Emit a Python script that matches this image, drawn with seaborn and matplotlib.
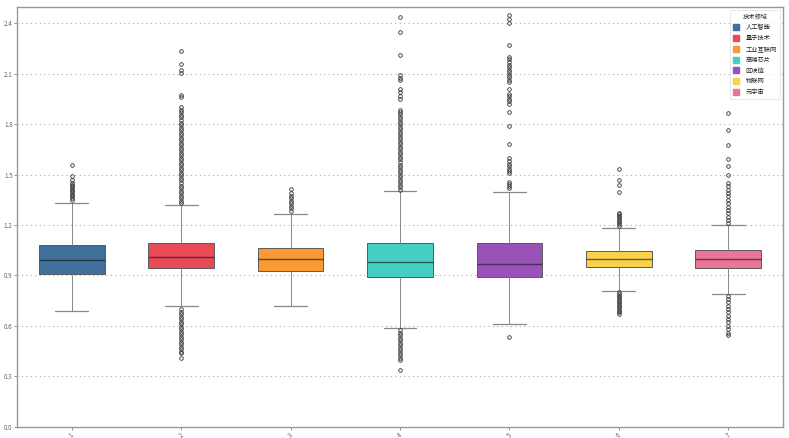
import numpy as np
import pandas as pd
import matplotlib
matplotlib.use("Agg")
import matplotlib.pyplot as plt
from matplotlib.lines import Line2D
import seaborn as sns

# ---- data ----
fields = ["人工智能", "量子技术", "工业互联网", "高端芯片", "区块链", "物联网", "元宇宙"]
tick_labels = ["1", "2", "3", "4", "5", "6", "7"]
colors = ["#41709c", "#e84a57", "#fb9a35", "#45cfc4", "#9b52b8", "#f9d24a", "#ea7597"]

q1 = [0.908, 0.944, 0.925, 0.890, 0.892, 0.950, 0.945]
medians = [0.993, 1.011, 0.995, 0.977, 0.967, 0.999, 0.997]
q3 = [1.078, 1.094, 1.063, 1.095, 1.094, 1.045, 1.050]
whisker_low = [0.688, 0.720, 0.720, 0.585, 0.611, 0.810, 0.790]
whisker_high = [1.331, 1.318, 1.268, 1.400, 1.395, 1.185, 1.200]

fliers_high = [
    [1.35, 1.36, 1.37, 1.38, 1.39, 1.40, 1.41, 1.42, 1.43, 1.44, 1.45, 1.47, 1.49, 1.557],
    [1.33, 1.345, 1.36, 1.375, 1.39, 1.405, 1.42, 1.435, 1.45, 1.465, 1.48, 1.495, 1.51,
     1.525, 1.54, 1.555, 1.57, 1.585, 1.60, 1.615, 1.63, 1.645, 1.66, 1.675, 1.69, 1.705,
     1.72, 1.735, 1.75, 1.765, 1.78, 1.795, 1.81, 1.825, 1.84, 1.855, 1.87, 1.885, 1.905,
     1.96, 1.975, 2.105, 2.12, 2.158, 2.233],
    [1.285, 1.30, 1.315, 1.33, 1.345, 1.36, 1.375, 1.39, 1.412],
    [1.41, 1.425, 1.44, 1.455, 1.47, 1.485, 1.50, 1.515, 1.53, 1.545, 1.56, 1.575, 1.59,
     1.605, 1.62, 1.635, 1.65, 1.665, 1.68, 1.695, 1.71, 1.725, 1.74, 1.755, 1.77, 1.785,
     1.80, 1.815, 1.83, 1.845, 1.86, 1.875, 1.887, 1.95, 1.97, 1.99, 2.01, 2.06, 2.075,
     2.09, 2.212, 2.346, 2.435],
    [1.418, 1.43, 1.445, 1.456, 1.507, 1.52, 1.535, 1.55, 1.565, 1.58, 1.596, 1.684, 1.792,
     1.871, 1.92, 1.935, 1.95, 1.965, 1.98, 2.01, 2.05, 2.065, 2.08, 2.095, 2.11, 2.125,
     2.14, 2.155, 2.17, 2.185, 2.198, 2.271, 2.40, 2.425, 2.45],
    [1.195, 1.205, 1.215, 1.225, 1.235, 1.245, 1.255, 1.265, 1.272, 1.397, 1.436, 1.47, 1.531],
    [1.21, 1.23, 1.25, 1.27, 1.29, 1.31, 1.33, 1.35, 1.37, 1.39, 1.41, 1.43, 1.45, 1.50,
     1.55, 1.59, 1.674, 1.763, 1.864],
]
fliers_low = [
    [],
    [0.70, 0.685, 0.67, 0.655, 0.64, 0.625, 0.61, 0.595, 0.58, 0.565, 0.55, 0.535, 0.52,
     0.505, 0.49, 0.475, 0.46, 0.447, 0.437, 0.408],
    [],
    [0.575, 0.56, 0.545, 0.53, 0.515, 0.50, 0.485, 0.47, 0.455, 0.44, 0.425, 0.41, 0.398,
     0.338],
    [0.532],
    [0.80, 0.79, 0.78, 0.77, 0.76, 0.75, 0.74, 0.73, 0.72, 0.71, 0.70, 0.69, 0.68, 0.669],
    [0.78, 0.76, 0.74, 0.72, 0.70, 0.68, 0.66, 0.64, 0.62, 0.60, 0.58, 0.56, 0.546],
]


def sample_for_box(lo_q, med, hi_q, wlo, whi, lo_fl, hi_fl):
    """Build a sample whose box-plot statistics equal the values read above."""
    L = len(lo_fl) + 1
    H = len(hi_fl) + 1
    M = 2 * max(L, H) + 4
    return (list(lo_fl) + [wlo] + [lo_q] * (M - L) + [med]
            + [hi_q] * (M - H) + [whi] + list(hi_fl))


rows = []
for i in range(len(fields)):
    vals = sample_for_box(q1[i], medians[i], q3[i], whisker_low[i], whisker_high[i],
                          fliers_low[i], fliers_high[i])
    for v in vals:
        rows.append({"label": tick_labels[i], "field": fields[i], "value": v})
df = pd.DataFrame(rows)

# ---- figure ----
sns.set_theme(style="white")
plt.rcParams["font.family"] = ["Noto Sans CJK SC", "DejaVu Sans"]

fig, ax = plt.subplots(figsize=(7.89, 4.38), dpi=100)
fig.subplots_adjust(left=0.0215, right=0.9924, top=0.985, bottom=0.026)

sns.boxplot(
    data=df, x="label", y="value", hue="field", order=tick_labels, hue_order=fields,
    palette=colors, saturation=1, dodge=False, width=0.6, linewidth=0.7,
    linecolor="#5a5a5a", fliersize=2.6, legend=False, ax=ax,
    flierprops=dict(marker="o", markerfacecolor="none", markeredgecolor="#333333",
                    markeredgewidth=0.6),
    medianprops=dict(color="#1a1a1a", alpha=0.65, linewidth=1.0),
    whiskerprops=dict(color="#888888", linewidth=0.7),
    capprops=dict(color="#888888", linewidth=0.9),
)

ax.set_ylim(0, 2.5)
ax.set_xlim(-0.5, 6.5)
ax.set_yticks([0.0, 0.3, 0.6, 0.9, 1.2, 1.5, 1.8, 2.1, 2.4])
ax.set_yticklabels(["0.0", "0.3", "0.6", "0.9", "1.2", "1.5", "1.8", "2.1", "2.4"])
ax.set_xlabel("")
ax.set_ylabel("")
ax.yaxis.grid(True, linestyle=(0, (1, 3)), color="#aaaaaa", linewidth=0.8)
ax.set_axisbelow(True)
ax.tick_params(axis="both", labelsize=4.5, colors="#666666", length=2, width=0.5,
               pad=1.2, left=True, bottom=True)
plt.setp(ax.get_xticklabels(), rotation=45, ha="center", va="top")
for s in ax.spines.values():
    s.set_color("#999999")
    s.set_linewidth(1.0)

handles = [Line2D([0], [0], marker="s", linestyle="none", markersize=4,
                  markerfacecolor=c, markeredgecolor=c) for c in colors]
leg = ax.legend(handles, fields, title="技术领域", loc="upper right", fontsize=4.5,
                title_fontsize=4.5, frameon=True, handletextpad=0.9,
                labelspacing=0.45, borderpad=0.45, handlelength=1.2,
                bbox_to_anchor=(1.0, 1.0))
leg.get_frame().set_edgecolor("#bbbbbb")
leg.get_frame().set_linestyle((0, (1, 1)))
leg.get_frame().set_linewidth(0.6)

fig.savefig("out.png", dpi=100)
